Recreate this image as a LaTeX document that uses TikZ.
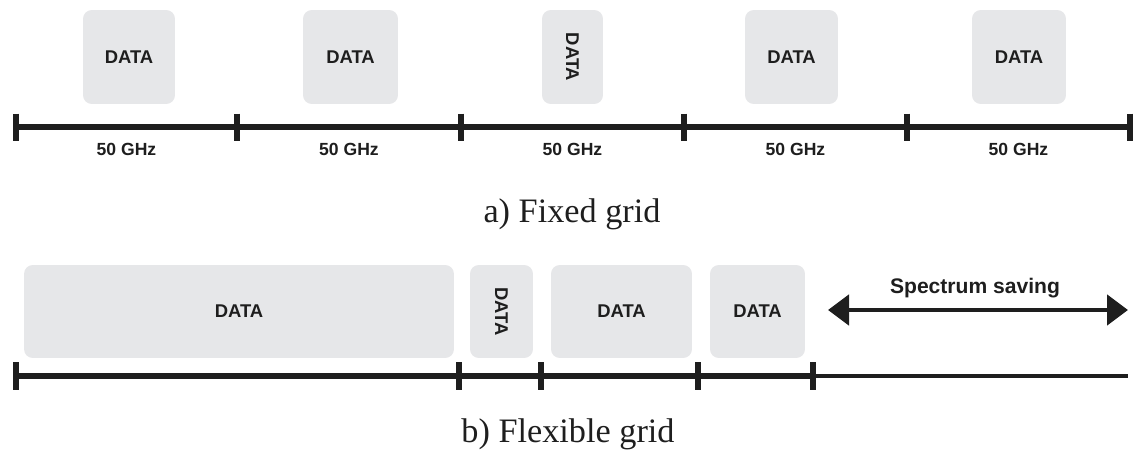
\documentclass[tikz,border=0pt]{standalone}
\usepackage{fontspec}
\setsansfont{Liberation Sans}
\newfontfamily\capfont{Liberation Serif}
\usepackage{xcolor}
\usetikzlibrary{arrows.meta, positioning}

\definecolor{slotgray}{HTML}{E6E7E9}
\definecolor{inkdark}{HTML}{1E1E1E}

\begin{document}
\begin{tikzpicture}[
    x=0.02cm, y=-0.02cm,
    slot/.style={rectangle, fill=slotgray, rounded corners=5pt,
                 inner sep=0pt, align=center,
                 font=\sffamily\bfseries\fontsize{10.5}{12}\selectfont, text=inkdark},
    band/.style={font=\sffamily\bfseries\fontsize{10}{12}\selectfont, text=inkdark},
    axis/.style={line width=3.2pt, inkdark},
    tick/.style={line width=3pt, inkdark},
    caption/.style={font=\capfont\fontsize{19.5}{23}\selectfont, text=inkdark},
    arr/.style={{Triangle[length=4.2mm, width=6mm]}-{Triangle[length=4.2mm, width=6mm]},
                line width=2.8pt, inkdark},
]
\useasboundingbox (0,0) rectangle (1134,454);

% a) fixed grid
\node[slot, minimum width=1.84cm, minimum height=1.88cm] (fa) at (129,57)   {DATA};
\node[slot, minimum width=1.90cm, minimum height=1.88cm] (fb) at (350.5,57) {DATA};
\node[slot, minimum width=1.22cm, minimum height=1.88cm] (fc) at (572.5,57) {\rotatebox{-90}{DATA}};
\node[slot, minimum width=1.86cm, minimum height=1.88cm] (fd) at (791.5,57) {DATA};
\node[slot, minimum width=1.88cm, minimum height=1.88cm] (fe) at (1019,57)  {DATA};

\foreach \n/\x in {0/16, 1/237, 2/461, 3/684, 4/907, 5/1130}
  \coordinate (ft\n) at (\x,127);
\draw[axis] (ft0) -- (ft5);
\foreach \n in {0,...,5}
  \draw[tick] ([yshift=0.27cm]ft\n) -- ([yshift=-0.27cm]ft\n);

\foreach \n/\x in {1/126.5, 2/349, 3/572.5, 4/795.5, 5/1018.5}
  \node[band] (ghz\n) at (\x,149) {50 GHz};

\node[caption] (capa) at (572,214) {a) Fixed grid};

% b) flexible grid
\node[slot, minimum width=8.60cm, minimum height=1.86cm] (xa) at (239,311.5)   {DATA};
\node[slot, minimum width=1.26cm, minimum height=1.86cm] (xb) at (501.5,311.5) {\rotatebox{-90}{DATA}};
\node[slot, minimum width=2.82cm, minimum height=1.86cm] (xc) at (621.5,311.5) {DATA};
\node[slot, minimum width=1.90cm, minimum height=1.86cm] (xd) at (757.5,311.5) {DATA};

\foreach \n/\x in {0/16, 1/459, 2/541, 3/698, 4/813}
  \coordinate (xt\n) at (\x,376);
\coordinate (xend) at (1128,376);
\draw[axis] (xt0) -- (xt4);
\draw[inkdark, line width=2.6pt] (xt4) -- (xend);
\foreach \n in {0,...,4}
  \draw[tick] ([yshift=0.28cm]xt\n) -- ([yshift=-0.28cm]xt\n);

\coordinate (saveL) at (828,310);
\coordinate (saveR) at (1128,310);
\draw[arr] (saveL) -- (saveR);
\node[font=\sffamily\bfseries\fontsize{12}{14}\selectfont, text=inkdark] (save) at (975,288) {Spectrum saving};

\node[caption] (capb) at (568,434) {b) Flexible grid};
\end{tikzpicture}
\end{document}
